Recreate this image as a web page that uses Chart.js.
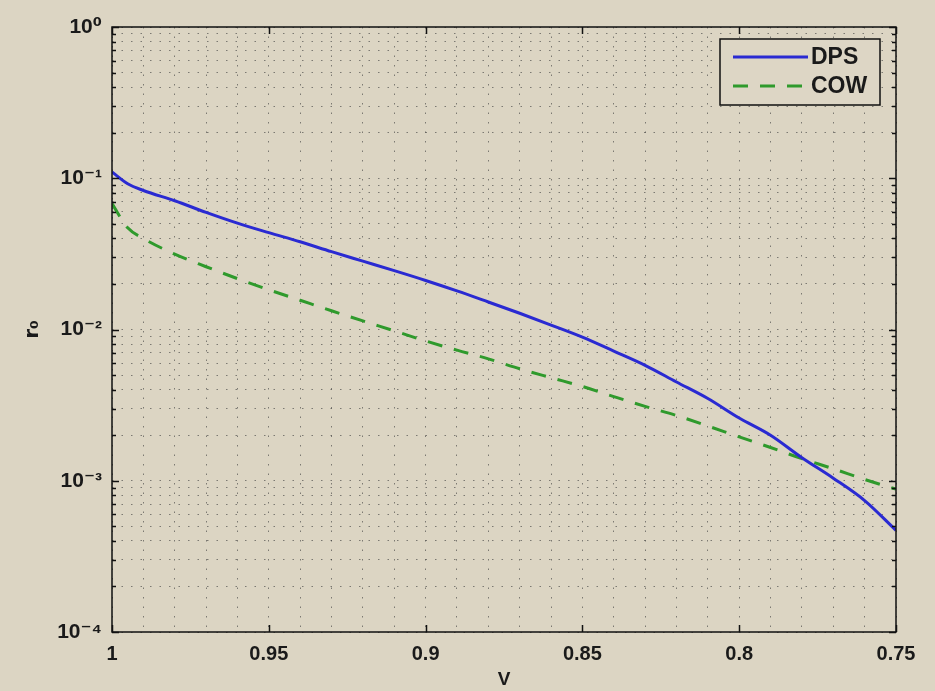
<!DOCTYPE html>
<html>
<head>
<meta charset="utf-8">
<script src="https://cdn.jsdelivr.net/npm/chart.js@4.4.0/dist/chart.umd.min.js"></script>
<style>
  html, body { margin: 0; padding: 0; background: #dcd5c3; }
  #chart { display: block; background: #dcd5c3; }
</style>
</head>
<body>
<canvas id="chart" width="935" height="691"></canvas>
<script>
// V runs from 1 down to 0.75 (x axis is reversed)
const vValues   = [1.00, 0.995, 0.99, 0.98, 0.97, 0.96, 0.95, 0.94, 0.93, 0.92, 0.91, 0.90, 0.89, 0.88,
                   0.87, 0.86, 0.85, 0.84, 0.83, 0.82, 0.81, 0.80, 0.79, 0.78, 0.77, 0.76, 0.75];
const dpsValues = [0.110, 0.092, 0.083, 0.071, 0.0595, 0.0505, 0.0437, 0.038, 0.0327, 0.0283, 0.0245, 0.0211, 0.0180, 0.0152,
                   0.0128, 0.0107, 0.0089, 0.0072, 0.0058, 0.0045, 0.0035, 0.0026, 0.0020, 0.00142, 0.00104, 0.00074, 0.00047];
const cowValues = [0.068, 0.047, 0.040, 0.0315, 0.026, 0.0217, 0.0183, 0.0156, 0.0133, 0.0114, 0.0098, 0.0084, 0.0073, 0.0064,
                   0.0055, 0.0048, 0.0042, 0.0036, 0.0031, 0.0027, 0.0023, 0.00195, 0.00166, 0.0014, 0.0012, 0.00102, 0.00088];

const xTickValues = [1, 0.95, 0.9, 0.85, 0.8, 0.75];
const xTickLabels = ['1', '0.95', '0.9', '0.85', '0.8', '0.75'];
const yTickValues = [1, 0.1, 0.01, 0.001, 0.0001];
const yTickLabels = ['10\u2070', '10\u207B\u00B9', '10\u207B\u00B2', '10\u207B\u00B3', '10\u207B\u2074'];

const tickFont = { family: '"Liberation Sans", Arial, "DejaVu Sans", sans-serif', size: 20, weight: 'bold' };
const gridColor = 'rgba(60, 60, 60, 0.6)';

// minor grid positions: 0.01 steps in V, 2..9 per decade in r0
const xGrid = [];
for (let k = 75; k <= 100; k++) xGrid.push(k / 100);
const yGrid = [];
yTickValues.forEach(d => {
    yGrid.push(d);
    if (d > yTickValues[yTickValues.length - 1]) {
        for (let m = 2; m <= 9; m++) yGrid.push(m * d / 10);
    }
});

function labelFor(val, values, labels) {
    const i = values.findIndex(v => Math.abs(v - val) / v < 1e-6);
    return i >= 0 ? labels[i] : '';
}

// box, inward ticks and MATLAB style legend
const framePlugin = {
    id: 'frame',
    afterDraw(chart) {
        const { ctx, chartArea: a, scales } = chart;
        ctx.save();
        ctx.strokeStyle = '#111';
        ctx.lineWidth = 1.5;
        ctx.setLineDash([]);
        ctx.strokeRect(a.left, a.top, a.right - a.left, a.bottom - a.top);

        ctx.beginPath();
        xTickValues.forEach(v => {
            const px = Math.round(scales.x.getPixelForValue(v)) + 0.5;
            ctx.moveTo(px, a.bottom); ctx.lineTo(px, a.bottom - 7);
            ctx.moveTo(px, a.top); ctx.lineTo(px, a.top + 7);
        });
        yGrid.forEach(v => {
            const py = Math.round(scales.y.getPixelForValue(v)) + 0.5;
            const len = yTickValues.includes(v) ? 7 : 4;
            ctx.moveTo(a.left, py); ctx.lineTo(a.left + len, py);
            ctx.moveTo(a.right, py); ctx.lineTo(a.right - len, py);
        });
        ctx.stroke();

        // legend
        const bw = 160, bh = 66;
        const bx = a.right - 16 - bw, by = a.top + 12;
        ctx.fillStyle = '#ddd6c5';
        ctx.fillRect(bx, by, bw, bh);
        ctx.strokeStyle = '#111';
        ctx.lineWidth = 1.5;
        ctx.strokeRect(bx, by, bw, bh);
        ctx.font = 'bold 23px "Liberation Sans", Arial, sans-serif';
        ctx.textBaseline = 'middle';
        chart.data.datasets.forEach((ds, i) => {
            const ly = by + 18 + i * 29;
            ctx.beginPath();
            ctx.strokeStyle = ds.borderColor;
            ctx.lineWidth = ds.borderWidth;
            ctx.setLineDash(ds.borderDash || []);
            ctx.moveTo(bx + 13, ly); ctx.lineTo(bx + 88, ly);
            ctx.stroke();
            ctx.setLineDash([]);
            ctx.fillStyle = '#1a1a1a';
            ctx.fillText(ds.label, bx + 91, ly + 1);
        });
        ctx.restore();
    }
};

new Chart(document.getElementById('chart'), {
    type: 'line',
    data: {
        datasets: [
            {
                label: 'DPS',
                data: vValues.map((v, i) => ({ x: v, y: dpsValues[i] })),
                borderColor: '#2a2ad2',
                borderWidth: 3,
                pointRadius: 0,
                cubicInterpolationMode: 'monotone',
                fill: false
            },
            {
                label: 'COW',
                data: vValues.map((v, i) => ({ x: v, y: cowValues[i] })),
                borderColor: '#2f9a2c',
                borderWidth: 3,
                borderDash: [15, 12],
                pointRadius: 0,
                cubicInterpolationMode: 'monotone',
                fill: false
            }
        ]
    },
    options: {
        responsive: false,
        animation: false,
        layout: { padding: { top: 27, right: 39, left: 0, bottom: 0 } },
        plugins: {
            legend: { display: false },
            tooltip: { enabled: false }
        },
        scales: {
            x: {
                type: 'linear',
                reverse: true,
                min: 0.75,
                max: 1,
                afterBuildTicks: scale => { scale.ticks = xGrid.map(v => ({ value: v })); },
                afterFit: scale => { scale.height = 59; },
                ticks: {
                    autoSkip: false,
                    maxRotation: 0,
                    padding: 10,
                    color: '#1a1a1a',
                    font: tickFont,
                    callback: val => labelFor(val, xTickValues, xTickLabels)
                },
                grid: { color: gridColor, lineWidth: 1, drawTicks: false },
                border: { display: false, dash: [1.5, 8] },
                title: {
                    display: true,
                    text: 'V',
                    color: '#1a1a1a',
                    font: { family: tickFont.family, size: 19, weight: 'bold' },
                    padding: { top: 0, bottom: 0 }
                }
            },
            y: {
                type: 'logarithmic',
                min: 0.0001,
                max: 1,
                afterBuildTicks: scale => { scale.ticks = yGrid.map(v => ({ value: v })); },
                afterFit: scale => { scale.width = 112; },
                ticks: {
                    autoSkip: false,
                    padding: 10,
                    color: '#1a1a1a',
                    font: { family: '"Liberation Sans", "DejaVu Sans", sans-serif', size: 21, weight: 'bold' },
                    callback: val => labelFor(val, yTickValues, yTickLabels)
                },
                grid: { color: gridColor, lineWidth: 1, drawTicks: false },
                border: { display: false, dash: [1.5, 8] },
                title: {
                    display: true,
                    text: 'r\u2080',
                    color: '#1a1a1a',
                    font: { family: '"DejaVu Sans", sans-serif', size: 20, weight: 'bold' },
                    padding: { top: 21, bottom: 0 }
                }
            }
        }
    },
    plugins: [framePlugin]
});
</script>
</body>
</html>
